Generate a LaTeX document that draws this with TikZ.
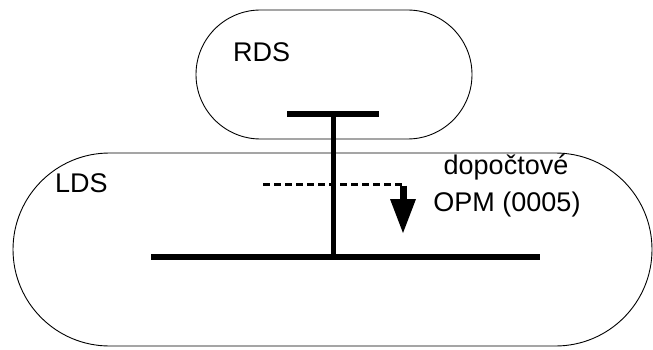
\documentclass[tikz,border=0pt]{standalone}
\usepackage{fontspec}
\setmainfont{Liberation Sans}
\begin{document}
\begin{tikzpicture}[x=1pt,y=-1pt,
  domain/.style={draw=black,line width=0.9pt,rounded corners=#1,inner sep=0pt},
  bar/.style={line width=6pt},
  stem/.style={line width=5pt},
  lbl/.style={font=\fontsize{27}{36}\selectfont,inner sep=0pt},
  dashedflow/.style={line width=3pt,dash pattern=on 7pt off 4pt},
]
\useasboundingbox (0,0) rectangle (653,350);
% domains
\node[domain=64.5pt,minimum width=276pt,minimum height=129pt] (rds) at (334,74.5) {};
\node[domain=96.5pt,minimum width=639pt,minimum height=193pt] (lds) at (332.5,249.5) {};
% labels
\node[lbl,anchor=base west] (rdst) at (233,62) {RDS};
\node[lbl,anchor=base west] (ldst) at (55,192) {LDS};
\node[lbl,anchor=base] (l1) at (506,175) {dopočtové};
\node[lbl,anchor=base] (l2) at (507,211) {OPM (0005)};
% T connection
\coordinate (tl) at (287,114);
\coordinate (tr) at (379,114);
\coordinate (tm) at (333,114);
\coordinate (bl) at (151,257);
\coordinate (br) at (540,257);
\coordinate (bm) at (333,257);
\draw[bar] (tl) -- (tr);
\draw[bar] (bl) -- (br);
\draw[stem] (tm) -- (bm);
% flow arrow
\coordinate (fs) at (263,184);
\coordinate (fc) at (403,184);
\coordinate (fd) at (403,200);
\coordinate (fa) at (390,199);
\coordinate (fb) at (416,199);
\coordinate (ft) at (403,233);
\draw[dashedflow] (fs) -- (fc);
\draw[line width=7pt] ([yshift=-1.5pt]fc) -- (fd);
\fill (fa) -- (fb) -- (ft) -- cycle;
\end{tikzpicture}
\end{document}
